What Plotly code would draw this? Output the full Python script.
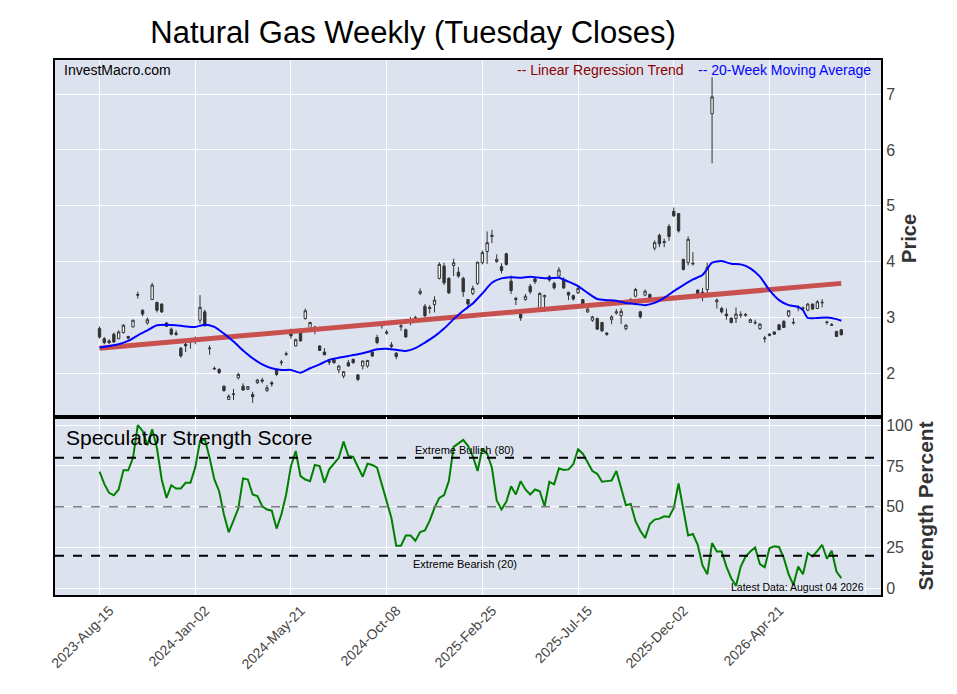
import plotly.graph_objects as go
from plotly.subplots import make_subplots

# week index 0 = 2023-08-15, weekly Tuesday closes
tick_weeks = [0, 20, 40, 60, 80, 100, 120, 140, 160]
tick_labels = ["2023-Aug-15", "2024-Jan-02", "2024-May-21", "2024-Oct-08",
               "2025-Feb-25", "2025-Jul-15", "2025-Dec-02", "2026-Apr-21", ""]

opens = [2.80, 2.62, 2.58, 2.70, 2.62, 2.73, 2.66, 2.83, 3.41, 3.13,
         2.90, 3.32, 3.27, 3.24, 2.90, 2.79, 2.72, 2.45, 2.52, 2.56,
         2.58, 2.95, 3.10, 2.44, 2.09, 2.07, 1.77, 1.53, 1.62, 1.92,
         1.77, 1.71, 1.62, 1.83, 1.88, 1.69, 1.83, 2.06, 2.19, 2.34,
         2.73, 2.49, 2.73, 2.98, 2.80, 2.83, 2.49, 2.38, 2.21, 2.24,
         2.06, 1.95, 2.19, 2.25, 1.97, 2.13, 2.13, 2.38, 2.64, 2.85,
         2.74, 2.48, 2.36, 2.83, 2.78, 2.96, 2.97, 3.43, 3.20, 3.18,
         3.23, 3.70, 3.92, 3.70, 3.93, 3.81, 3.70, 3.32, 3.43, 3.61,
         3.98, 4.18, 4.45, 4.00, 3.91, 4.14, 3.65, 3.34, 3.06, 3.32,
         3.56, 3.69, 3.16, 3.37, 3.73, 3.61, 3.74, 3.68, 3.45, 3.39,
         3.44, 3.32, 3.10, 2.95, 2.98, 2.91, 2.72, 2.96, 3.08, 3.03,
         2.80, 3.32, 3.38, 3.10, 3.40, 3.41, 4.24, 4.47, 4.34, 4.63,
         4.90, 4.86, 4.04, 3.98, 3.97, 3.49, 3.43, 3.50, 6.65, 3.28,
         3.16, 3.06, 2.99, 2.98, 3.04, 3.04, 2.91, 2.90, 2.80, 2.62,
         2.70, 2.74, 2.87, 2.93, 3.03, 2.90, 3.17, 3.17, 3.13, 3.24,
         3.16, 3.26, 2.92, 2.87, 2.75, 2.78]
highs = [2.84, 2.65, 2.61, 2.73, 2.77, 2.88, 2.67, 2.96, 3.46, 3.14,
         3.00, 3.62, 3.28, 3.25, 2.92, 2.82, 2.77, 2.47, 2.55, 2.59,
         2.66, 3.40, 3.14, 2.50, 2.12, 2.09, 1.78, 1.62, 1.72, 2.01,
         1.82, 1.77, 1.67, 1.90, 1.92, 1.79, 1.86, 2.07, 2.24, 2.39,
         2.80, 2.62, 2.80, 3.16, 2.92, 2.85, 2.50, 2.45, 2.25, 2.27,
         2.15, 2.04, 2.24, 2.26, 1.99, 2.23, 2.24, 2.40, 2.69, 2.93,
         2.78, 2.56, 2.38, 2.89, 2.80, 3.01, 3.03, 3.52, 3.24, 3.22,
         3.38, 3.99, 3.98, 3.72, 4.05, 3.90, 3.73, 3.33, 3.57, 4.00,
         4.20, 4.54, 4.57, 4.13, 3.97, 4.16, 3.75, 3.37, 3.07, 3.42,
         3.60, 3.73, 3.45, 3.41, 3.76, 3.64, 3.90, 3.72, 3.46, 3.41,
         3.57, 3.33, 3.17, 3.03, 3.00, 2.92, 2.74, 3.04, 3.15, 3.16,
         2.88, 3.35, 3.53, 3.12, 3.50, 3.43, 4.38, 4.50, 4.41, 4.67,
         4.97, 4.87, 4.05, 4.45, 4.17, 3.50, 3.53, 3.98, 7.30, 3.34,
         3.19, 3.16, 2.99, 3.18, 3.11, 3.08, 2.98, 2.96, 2.90, 2.67,
         2.72, 2.75, 2.88, 2.95, 3.13, 2.99, 3.22, 3.20, 3.26, 3.25,
         3.31, 3.33, 2.94, 2.90, 2.76, 2.79]
lows = [2.62, 2.52, 2.52, 2.55, 2.61, 2.71, 2.59, 2.82, 3.34, 3.02,
        2.87, 3.32, 3.09, 3.08, 2.83, 2.68, 2.67, 2.28, 2.38, 2.44,
        2.52, 2.89, 2.83, 2.33, 2.06, 1.99, 1.67, 1.52, 1.52, 1.89,
        1.69, 1.70, 1.47, 1.81, 1.82, 1.67, 1.76, 1.95, 2.14, 2.31,
        2.62, 2.48, 2.57, 2.96, 2.77, 2.70, 2.40, 2.33, 2.15, 2.17,
        2.00, 1.91, 2.12, 2.17, 1.86, 2.07, 2.10, 2.29, 2.52, 2.80,
        2.69, 2.45, 2.25, 2.76, 2.64, 2.86, 2.94, 3.40, 3.00, 3.07,
        3.09, 3.68, 3.58, 3.42, 3.74, 3.71, 3.37, 3.17, 3.40, 3.58,
        3.95, 3.96, 4.33, 3.98, 3.79, 3.93, 3.42, 3.22, 2.94, 3.30,
        3.42, 3.60, 3.14, 3.10, 3.64, 3.50, 3.72, 3.51, 3.31, 3.30,
        3.42, 3.22, 3.08, 2.92, 2.78, 2.74, 2.67, 2.88, 3.05, 2.88,
        2.77, 3.28, 3.36, 2.98, 3.38, 3.30, 4.20, 4.26, 4.26, 4.37,
        4.80, 4.52, 3.84, 3.93, 3.93, 3.34, 3.29, 3.43, 5.76, 3.16,
        3.07, 2.96, 2.89, 2.90, 2.99, 3.01, 2.90, 2.87, 2.78, 2.55,
        2.66, 2.69, 2.77, 2.81, 3.00, 2.87, 3.11, 3.12, 3.11, 3.14,
        3.15, 3.18, 2.87, 2.85, 2.65, 2.68]
closes = [2.65, 2.55, 2.55, 2.56, 2.74, 2.86, 2.63, 2.95, 3.40, 3.06,
          2.96, 3.58, 3.13, 3.10, 2.84, 2.70, 2.70, 2.31, 2.49, 2.57,
          2.59, 3.18, 2.86, 2.45, 2.08, 2.01, 1.69, 1.59, 1.63, 1.98,
          1.70, 1.76, 1.58, 1.88, 1.86, 1.74, 1.81, 1.98, 2.20, 2.35,
          2.67, 2.60, 2.58, 3.12, 2.91, 2.81, 2.41, 2.33, 2.20, 2.19,
          2.13, 2.03, 2.13, 2.19, 1.89, 2.22, 2.23, 2.31, 2.55, 2.87,
          2.72, 2.51, 2.30, 2.85, 2.65, 2.94, 3.00, 3.47, 3.03, 3.16,
          3.31, 3.95, 3.62, 3.44, 3.98, 3.74, 3.46, 3.24, 3.52, 3.99,
          4.16, 4.34, 4.47, 4.04, 3.84, 3.95, 3.48, 3.32, 2.99, 3.38,
          3.46, 3.64, 3.43, 3.39, 3.67, 3.53, 3.85, 3.53, 3.40, 3.33,
          3.52, 3.24, 3.15, 3.01, 2.79, 2.76, 2.70, 3.01, 3.10, 3.11,
          2.86, 3.30, 3.50, 3.01, 3.47, 3.32, 4.34, 4.32, 4.36, 4.45,
          4.82, 4.55, 3.86, 4.40, 3.96, 3.41, 3.45, 3.90, 6.95, 3.31,
          3.10, 3.03, 2.91, 3.06, 3.05, 3.05, 2.96, 2.91, 2.88, 2.63,
          2.68, 2.70, 2.78, 2.82, 3.12, 2.91, 3.18, 3.16, 3.24, 3.15,
          3.28, 3.27, 2.91, 2.86, 2.66, 2.69]

ma_weeks = [0, 4, 6, 8, 10, 12, 14, 16, 18, 20, 22, 24, 26, 28, 30, 32, 34,
            36, 38, 40, 42, 44, 46, 48, 50, 52, 54, 56, 58, 60, 62, 64, 66,
            68, 70, 72, 74, 76, 78, 80, 82, 84, 86, 88, 90, 92, 94, 96, 98,
            100, 102, 104, 106, 108, 110, 112, 114, 116, 118, 120, 122, 124,
            126, 127, 128, 130, 132, 134, 136, 138, 140, 142, 144, 146, 147,
            148, 150, 152, 154, 155]
ma_values = [2.46, 2.52, 2.58, 2.68, 2.77, 2.86, 2.87, 2.86, 2.84, 2.83, 2.87,
             2.83, 2.71, 2.57, 2.41, 2.27, 2.16, 2.09, 2.06, 2.06, 2.01, 2.09,
             2.16, 2.24, 2.28, 2.31, 2.34, 2.38, 2.43, 2.44, 2.42, 2.40, 2.45,
             2.55, 2.66, 2.80, 2.97, 3.12, 3.25, 3.43, 3.62, 3.70, 3.72, 3.71,
             3.73, 3.71, 3.70, 3.71, 3.64, 3.56, 3.44, 3.33, 3.31, 3.30, 3.26,
             3.24, 3.22, 3.26, 3.35, 3.47, 3.58, 3.68, 3.76, 3.87, 3.98, 4.01,
             3.96, 3.95, 3.88, 3.73, 3.49, 3.31, 3.22, 3.19, 3.13, 2.99, 2.99,
             3.00, 2.97, 2.94]

trend_weeks = [0, 155]
trend_values = [2.45, 3.61]

strength = [71.5, 64, 58.5, 57, 60.6, 72.3, 72.3, 80, 100, 96.5,
            87.7, 97.5, 86, 66.7, 55.4, 63.2, 61.2, 61.2, 64.7, 64.7,
            74, 90.3, 91.4, 80, 66.7, 59.5, 45.2, 34.3, 41.5, 48.9,
            67.4, 66.7, 57.5, 56.5, 50.3, 48.3, 47.6, 36.6, 45.2, 57.5,
            74.9, 84.2, 68.8, 66.7, 65.7, 75.6, 74.9, 64.7, 72.9, 76.4,
            80, 89.9, 81.1, 80.5, 73.9, 68.4, 76.4, 75.6, 73.9, 63.7,
            53.8, 43.1, 26.1, 26.1, 32.4, 32.4, 29.2, 34.5, 35.5, 41.5,
            49.3, 55.4, 57.1, 65.7, 86.7, 88.7, 91, 87.3, 81.1, 71.9,
            85.6, 82.5, 73.9, 53.8, 48.3, 53, 62.6, 57.5, 65.7, 60.6,
            57.5, 60.6, 59.5, 50.3, 65.3, 63.7, 73.5, 72.5, 72.9, 76,
            85.2, 82.5, 77, 71.9, 70.2, 65.3, 65.7, 66.1, 71.9, 61.6,
            50.9, 51.7, 41.1, 35.3, 30.8, 39.4, 42.1, 42.7, 44.1, 43.7,
            49.3, 64.3, 47.2, 32.4, 33.3, 26.7, 14, 8.6, 27.7, 22.6,
            22.6, 13.3, 6.2, 1.6, 13.3, 19.5, 22.6, 25, 14.8, 12.9,
            24.6, 25.7, 25.3, 18.5, 8.6, 2.1, 13.3, 8.6, 21.6, 19.5,
            23, 26.7, 18.1, 23, 10.3, 6.2]

weeks = list(range(len(closes)))

font = "Liberation Sans, Arial, sans-serif"
bg = "#dde3ee"

fig = make_subplots(rows=2, cols=1, shared_xaxes=True, vertical_spacing=0,
                    row_heights=[0.667, 0.333])

fig.add_trace(go.Candlestick(
    x=weeks, open=opens, high=highs, low=lows, close=closes,
    increasing=dict(line=dict(color="#333333", width=1), fillcolor="white"),
    decreasing=dict(line=dict(color="#333333", width=1), fillcolor="#333333"),
    whiskerwidth=0, showlegend=False, hoverinfo="skip"
), row=1, col=1)

fig.add_trace(go.Scatter(
    x=trend_weeks, y=trend_values, mode="lines",
    line=dict(color="#c8504f", width=5), showlegend=False
), row=1, col=1)

fig.add_trace(go.Scatter(
    x=ma_weeks, y=ma_values, mode="lines",
    line=dict(color="blue", width=2, shape="spline", smoothing=0.6),
    showlegend=False
), row=1, col=1)

fig.add_trace(go.Scatter(
    x=weeks, y=strength, mode="lines",
    line=dict(color="green", width=2), showlegend=False
), row=2, col=1)

fig.add_hline(y=80, line=dict(color="black", width=2, dash="dash"), row=2, col=1)
fig.add_hline(y=50, line=dict(color="gray", width=1.5, dash="dash"), row=2, col=1)
fig.add_hline(y=20, line=dict(color="black", width=2, dash="dash"), row=2, col=1)

axis_common = dict(showline=True, linecolor="black", linewidth=2, mirror=True,
                   gridcolor="white", gridwidth=1, zeroline=False, ticks="")

fig.update_xaxes(range=[-9.3, 163.3], tickvals=tick_weeks, ticktext=tick_labels,
                 rangeslider_visible=False, **axis_common)
fig.update_xaxes(tickangle=-45, tickfont=dict(size=14, color="#444444"),
                 ticklabelshift=10, row=2, col=1)

fig.update_yaxes(side="right", range=[1.22, 7.61], tickvals=[2, 3, 4, 5, 6, 7],
                 tickfont=dict(size=16, color="#444444"),
                 title=dict(text="<b>Price</b>", font=dict(size=20, color="#333333"),
                            standoff=8),
                 row=1, col=1, **axis_common)
fig.update_yaxes(side="right", range=[-4.1, 105.1], tickvals=[0, 25, 50, 75, 100],
                 tickfont=dict(size=16, color="#444444"),
                 title=dict(text="<b>Strength Percent</b>", font=dict(size=21, color="#333333"),
                            standoff=6),
                 row=2, col=1, **axis_common)

fig.add_annotation(text="InvestMacro.com", xref="paper", yref="paper",
                   x=0.0085, y=0.981, xanchor="left", yanchor="middle",
                   showarrow=False, font=dict(size=14, color="black"))
fig.add_annotation(text="-- Linear Regression Trend", xref="paper", yref="paper",
                   x=0.764, y=0.981, xanchor="right", yanchor="middle",
                   showarrow=False, font=dict(size=14, color="darkred"))
fig.add_annotation(text="-- 20-Week Moving Average", xref="paper", yref="paper",
                   x=0.990, y=0.981, xanchor="right", yanchor="middle",
                   showarrow=False, font=dict(size=14, color="blue"))
fig.add_annotation(text="Speculator Strength Score", xref="paper", yref="paper",
                   x=0.011, y=0.2953, xanchor="left", yanchor="middle",
                   showarrow=False, font=dict(size=21, color="black"))
fig.add_annotation(text="Extreme Bullish (80)", xref="paper", yref="y2",
                   x=0.496, y=80, xanchor="center", yanchor="bottom",
                   showarrow=False, font=dict(size=11, color="black"))
fig.add_annotation(text="Extreme Bearish (20)", xref="paper", yref="y2",
                   x=0.496, y=20, xanchor="center", yanchor="top",
                   showarrow=False, font=dict(size=11, color="black"))
fig.add_annotation(text="Latest Data: August 04 2026", xref="paper", yref="y2",
                   x=0.982, y=1, xanchor="right", yanchor="middle",
                   showarrow=False, font=dict(size=10.5, color="black"))

# page body adds an 8px offset, so the figure is sized to sit inside the window
fig.update_layout(
    width=949, height=686,
    margin=dict(l=47, r=76, t=52, b=99),
    title=dict(text="Natural Gas Weekly (Tuesday Closes)", xref="container",
               x=0.4268, y=0.965, xanchor="center", yanchor="middle",
               font=dict(size=31, color="black")),
    font=dict(family=font),
    plot_bgcolor=bg, paper_bgcolor="white",
    showlegend=False
)

fig.write_html("out.html")
